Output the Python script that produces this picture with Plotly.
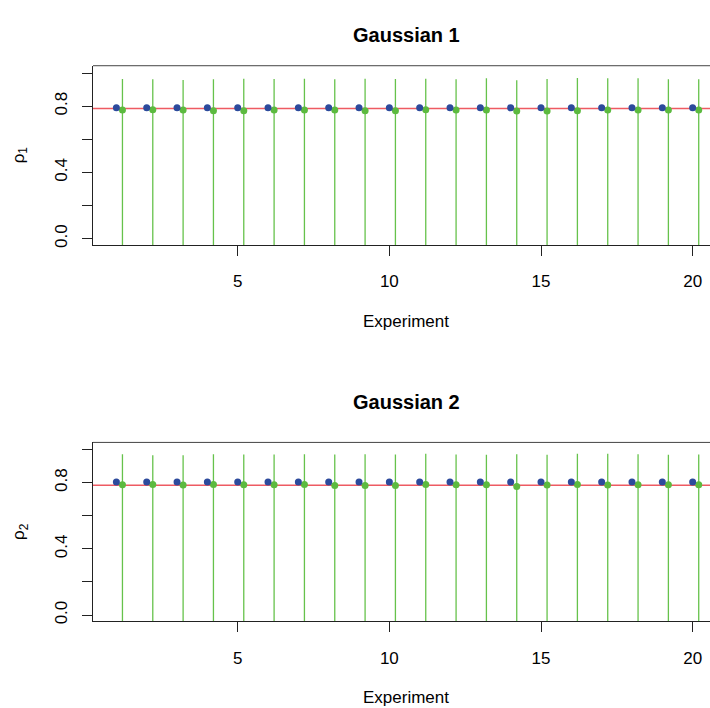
import plotly.graph_objects as go

experiments = list(range(1, 21))
true_rho = 0.7854

# Gaussian 1
blue1 = [0.790, 0.790, 0.790, 0.790, 0.790, 0.790, 0.790, 0.790, 0.790, 0.790,
         0.790, 0.790, 0.790, 0.790, 0.790, 0.790, 0.790, 0.790, 0.790, 0.790]
green1 = [0.777, 0.778, 0.776, 0.772, 0.772, 0.777, 0.777, 0.777, 0.772, 0.772,
          0.778, 0.777, 0.776, 0.770, 0.770, 0.772, 0.776, 0.777, 0.777, 0.777]
upper1 = [0.964, 0.962, 0.958, 0.962, 0.966, 0.964, 0.966, 0.962, 0.966, 0.964,
          0.966, 0.962, 0.968, 0.956, 0.964, 0.970, 0.968, 0.968, 0.962, 0.962]
lower1 = [-0.10, -0.10, -0.10, -0.10, -0.10, -0.10, -0.10, -0.10, -0.10, -0.10,
          -0.10, -0.10, -0.10, -0.10, -0.10, -0.10, -0.10, -0.10, -0.10, -0.10]

# Gaussian 2
blue2 = [0.804, 0.804, 0.804, 0.804, 0.804, 0.804, 0.804, 0.804, 0.804, 0.804,
         0.804, 0.804, 0.804, 0.804, 0.804, 0.804, 0.804, 0.804, 0.804, 0.804]
green2 = [0.788, 0.790, 0.786, 0.790, 0.788, 0.788, 0.790, 0.784, 0.784, 0.784,
          0.790, 0.788, 0.788, 0.778, 0.786, 0.790, 0.786, 0.788, 0.788, 0.788]
upper2 = [0.973, 0.967, 0.967, 0.973, 0.971, 0.971, 0.973, 0.971, 0.973, 0.971,
          0.975, 0.971, 0.969, 0.973, 0.969, 0.975, 0.975, 0.973, 0.969, 0.971]
lower2 = [-0.10, -0.10, -0.10, -0.10, -0.10, -0.10, -0.10, -0.10, -0.10, -0.10,
          -0.10, -0.10, -0.10, -0.10, -0.10, -0.10, -0.10, -0.10, -0.10, -0.10]

titles = ["Gaussian 1", "Gaussian 2"]
ylabels = ["ρ<sub>1</sub>", "ρ<sub>2</sub>"]
xtick_vals = [5, 10, 15, 20]
ytick_vals = [0.0, 0.4, 0.8]
ytick_text = ["0.0", "0.4", "0.8"]
yminor_vals = [0.2, 0.6, 1.0]

W, H = 710, 708
FONT = "Liberation Sans, Arial, Helvetica, sans-serif"
BLUE = "#2C4A9C"
GREEN = "#5CBA3F"
GREEN_LINE = "#66C24B"
RED = "#EE5A62"

# pixel layout of each panel
panels = [(66, 246), (444.3, 624)]
title_y = [35, 404]
xlab_y = [323, 700]
x_left = 93
offset = 0.2

fig = go.Figure()
datasets = [(blue1, green1, upper1, lower1), (blue2, green2, upper2, lower2)]

for i, (blue, green, upper, lower) in enumerate(datasets):
    xa = "x" if i == 0 else "x2"
    ya = "y" if i == 0 else "y2"
    gx = [e + offset for e in experiments]
    fig.add_trace(go.Scatter(x=[0, 22], y=[true_rho, true_rho], mode="lines",
                             line=dict(color=RED, width=1.6), xaxis=xa, yaxis=ya,
                             showlegend=False, hoverinfo="skip"))
    fig.add_trace(go.Scatter(
        x=gx, y=green, mode="markers",
        marker=dict(color=GREEN, size=7),
        error_y=dict(type="data", symmetric=False,
                     array=[u - g for u, g in zip(upper, green)],
                     arrayminus=[g - l for g, l in zip(green, lower)],
                     color=GREEN_LINE, thickness=1.3, width=0),
        xaxis=xa, yaxis=ya, showlegend=False))
    fig.add_trace(go.Scatter(x=experiments, y=blue, mode="markers",
                             marker=dict(color=BLUE, size=7),
                             xaxis=xa, yaxis=ya, showlegend=False))

axis_common = dict(showgrid=False, zeroline=False, showline=True, linecolor="#222",
                   linewidth=1, ticks="outside", ticklen=10, tickcolor="#222",
                   tickfont=dict(family=FONT, size=17, color="#000"))

layout = dict(width=W, height=H, margin=dict(l=0, r=0, t=0, b=0),
              plot_bgcolor="white", paper_bgcolor="white", showlegend=False)

annotations = []
shapes = []
for i, (top, bot) in enumerate(panels):
    suffix = "" if i == 0 else "2"
    dom = [1 - bot / H, 1 - top / H]
    layout["xaxis" + suffix] = dict(axis_common, domain=[x_left / W, 1],
                                    range=[0.229, 20.572], tickvals=xtick_vals,
                                    anchor="y" + suffix, ticklabelstandoff=11)
    layout["yaxis" + suffix] = dict(axis_common, domain=dom, range=[-0.038, 1.044],
                                    tickvals=ytick_vals, ticktext=ytick_text,
                                    tickangle=-90, anchor="x" + suffix,
                                    ticklabelstandoff=8,
                                    minor=dict(tickvals=yminor_vals, ticks="outside",
                                               ticklen=10, tickcolor="#222", showgrid=False))
    mid = (top + bot) / 2
    annotations.append(dict(text="<b>" + titles[i] + "</b>", x=406 / W, y=1 - title_y[i] / H,
                            xref="paper", yref="paper", showarrow=False,
                            xanchor="center", yanchor="middle",
                            font=dict(family=FONT, size=20, color="#000")))
    annotations.append(dict(text="Experiment", x=406 / W, y=1 - xlab_y[i] / H,
                            xref="paper", yref="paper", showarrow=False,
                            xanchor="center", yanchor="middle",
                            font=dict(family=FONT, size=17, color="#000")))
    annotations.append(dict(text=ylabels[i], x=20 / W, y=1 - mid / H, textangle=-90,
                            xref="paper", yref="paper", showarrow=False,
                            xanchor="center", yanchor="middle",
                            font=dict(family=FONT, size=17, color="#000")))
    shapes.append(dict(type="line", xref="x" + suffix + " domain", yref="y" + suffix + " domain",
                       x0=0, x1=1, y0=1, y1=1, line=dict(color="#444", width=1)))

layout["annotations"] = annotations
layout["shapes"] = shapes
fig.update_layout(**layout)
fig.write_html("out.html", config={"displayModeBar": False},
               post_script="document.body.style.margin='0';document.body.style.overflow='hidden';")
